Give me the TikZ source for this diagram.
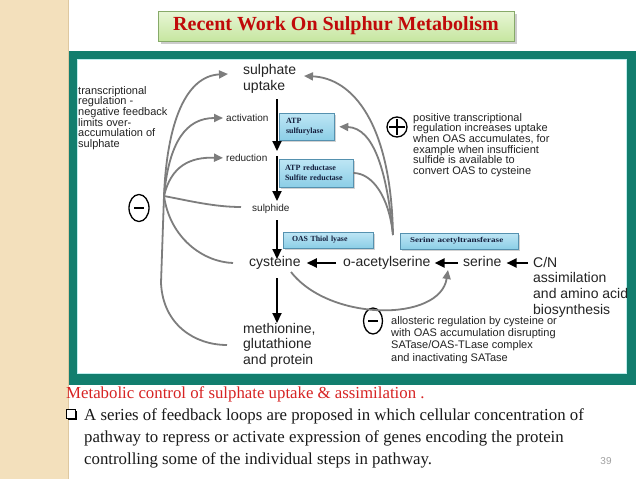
\documentclass[tikz,border=0pt]{standalone}
\usepackage{fontspec}
\setmainfont{Liberation Serif}
\setsansfont{Liberation Sans}
\usetikzlibrary{arrows.meta,shadows,shapes.geometric}
\definecolor{beige}{RGB}{243,224,188}
\definecolor{beigeline}{RGB}{222,200,160}
\definecolor{frameteal}{RGB}{18,126,110}
\definecolor{framecyan}{RGB}{190,238,238}
\definecolor{titlered}{RGB}{192,10,10}
\definecolor{titletop}{RGB}{232,246,214}
\definecolor{titlebot}{RGB}{198,230,160}
\definecolor{titleborder}{RGB}{135,170,105}
\definecolor{boxtop}{RGB}{190,230,245}
\definecolor{boxbot}{RGB}{140,206,230}
\definecolor{boxborder}{RGB}{85,145,175}
\definecolor{boxtext}{RGB}{20,30,60}
\definecolor{fbgray}{RGB}{125,125,125}
\definecolor{ink}{RGB}{35,35,35}
\definecolor{notered}{RGB}{215,35,35}
\definecolor{pagenum}{RGB}{160,160,160}
\begin{document}
\begin{tikzpicture}[x=1pt,y=-1pt,
  lbl/.style={font=\sffamily\fontsize{14}{16.5}\selectfont, text=ink, inner sep=0, align=left},
  rowlbl/.style={font=\sffamily\fontsize{14}{16.5}\selectfont, text=ink, inner sep=0, text height=10pt, text depth=3pt},
  tinylbl/.style={font=\sffamily\fontsize{10}{12}\selectfont, text=ink, inner sep=0},
  smalltxt/.style={font=\sffamily\fontsize{11}{10.7}\selectfont, text=ink, inner sep=0, align=left},
  allotxt/.style={font=\sffamily\fontsize{11}{12.3}\selectfont, text=ink, inner sep=0, align=left},
  ebox/.style={rectangle, draw=boxborder, line width=0.6pt, top color=boxtop, bottom color=boxbot,
    drop shadow={shadow xshift=1.5pt, shadow yshift=-1.5pt, opacity=0.35},
    inner ysep=0, font=\bfseries\fontsize{8}{10.5}\selectfont, text=boxtext, align=left},
  titlebox/.style={rectangle, draw=titleborder, line width=0.7pt, top color=titletop, bottom color=titlebot,
    drop shadow={shadow xshift=2.5pt, shadow yshift=-2.5pt, opacity=0.4},
    font=\bfseries\fontsize{20}{22}\selectfont, text=titlered},
  sign/.style={ellipse, draw=black, line width=1.3pt, inner sep=0},
  blk/.style={line width=2.2pt, draw=black, -{Triangle[length=10pt,width=9pt]}},
  fb/.style={line width=1.8pt, draw=fbgray, -{Triangle[length=9pt,width=8pt]}},
  fbl/.style={line width=1.8pt, draw=fbgray},
  note/.style={font=\fontsize{16.8}{22}\selectfont, inner sep=0, align=left, text=black!90}]
\useasboundingbox (0,0) rectangle (638,479);
\fill[white] (0,0) rectangle (638,479);
% side strip
\fill[beige] (0,0) rectangle (68,479);
\draw[beigeline, line width=1pt] (68,0) -- (68,479);
% frame
\fill[frameteal] (69,51) rectangle (636,385);
\filldraw[fill=white, draw=framecyan, line width=1.5pt] (77.5,59.5) rectangle (626.5,373.5);
% title
\node[titlebox, minimum width=356, minimum height=30] (title) at (336,26) {Recent Work On Sulphur Metabolism};

% enzyme boxes
\node[ebox, minimum width=55, minimum height=27, inner xsep=7pt, text width=41pt] (e1) at (306.5,126.5) {ATP\\sulfurylase};
\node[ebox, minimum width=74, minimum height=28, inner xsep=6pt, text width=62pt] (e2) at (316,173) {ATP reductase\\Sulfite reductase};
\node[ebox, minimum width=90, minimum height=16, inner xsep=9pt, text width=72pt, font=\bfseries\fontsize{7.8}{9}\selectfont] (e3) at (328,240) {OAS Thiol lyase};
\node[ebox, minimum width=118, minimum height=16, inner xsep=10pt, text width=98pt, font=\bfseries\fontsize{7.4}{9}\selectfont] (e4) at (459,241) {\scalebox{1.22}[1]{Serine acetyltransferase}};

% pathway labels (multi-line nodes: base = last line)
\node[lbl, anchor=base west] (upt) at (243,90.5) {sulphate\\uptake};
\node[tinylbl, anchor=west] (act) at (226,118) {activation};
\node[tinylbl, anchor=west] (red) at (226,158) {reduction};
\node[tinylbl, anchor=west] (sde) at (252,209) {sulphide};
\node[rowlbl, anchor=base west] (cys) at (249,266.5) {cysteine};
\node[rowlbl, anchor=base west] (oas) at (343,266.5) {o-acetylserine};
\node[rowlbl, anchor=base west] (ser) at (463,266.5) {serine};
\node[lbl, anchor=base west, font=\sffamily\fontsize{14}{15.8}\selectfont] (cn) at (533,314.4) {C/N\\assimilation\\and amino acid\\biosynthesis};
\node[lbl, anchor=base west, font=\sffamily\fontsize{14}{15.5}\selectfont] (met) at (243,364) {methionine,\\glutathione\\and protein};

% explanatory texts
\node[smalltxt, anchor=base west] (ltxt) at (78,147.5) {transcriptional\\regulation -\\negative feedback\\limits over-\\accumulation of\\sulphate};
\node[smalltxt, anchor=base west] (ptxt) at (413,174.5) {positive transcriptional\\regulation increases uptake\\when OAS accumulates, for\\example when insufficient\\sulfide is available to\\convert OAS to cysteine};
\node[allotxt, anchor=base west] (atxt) at (391,361) {allosteric regulation by cysteine or\\with OAS accumulation disrupting\\SATase/OAS-TLase complex\\and inactivating SATase};

% signs
\node[sign, minimum width=20, minimum height=27] (mL) at (139,208) {};
\draw[line width=1.3pt] ([xshift=-5pt]mL.center) -- ([xshift=5pt]mL.center);
\node[sign, minimum width=20, minimum height=20] (pR) at (397,127) {};
\draw[line width=1.3pt] ([xshift=-8pt]pR.center) -- ([xshift=8pt]pR.center);
\draw[line width=1.3pt] ([yshift=-8pt]pR.center) -- ([yshift=8pt]pR.center);
\node[sign, minimum width=19, minimum height=26] (mB) at (373,321) {};
\draw[line width=1.3pt] ([xshift=-5pt]mB.center) -- ([xshift=5pt]mB.center);

% main black arrows
\coordinate (v1) at (277,99);  \coordinate (v2) at (277,151);
\coordinate (v3) at (277,156); \coordinate (v4) at (277,201);
\coordinate (v5) at (277,220); \coordinate (v6) at (277,259);
\coordinate (v7) at (277,278); \coordinate (v8) at (277,323);
\draw[blk] (v1) -- (v2);
\draw[blk] (v3) -- (v4);
\draw[blk] (v5) -- (v6);
\draw[blk] (v7) -- (v8);
\coordinate (cysR) at ([yshift=3.5pt]cys.base east);
\coordinate (oasL) at ([yshift=3.5pt]oas.base west);
\coordinate (oasR) at ([yshift=3.5pt]oas.base east);
\coordinate (serL) at ([yshift=3.5pt]ser.base west);
\coordinate (serR) at ([yshift=3.5pt]ser.base east);
\draw[blk, shorten <=7pt, shorten >=6pt] (oasL) -- (cysR);
\draw[blk, shorten <=5pt, shorten >=4pt] (serL) -- (oasR);
\draw[blk, shorten <=5pt, shorten >=5pt] (serR -| cn.west) -- (serR);

% negative feedback (left)
\coordinate (fbL) at (164,196);
\coordinate (tU) at (228,74);
\coordinate (tS) at (241,207);
\coordinate (tC) at (233,263);
\coordinate (tM) at (227,345);
\draw[fb] (fbL) .. controls (167,122) and (186,76) .. (tU);
\draw[fb, shorten >=3pt] (fbL) .. controls (169,142) and (186,118) .. (act.west);
\draw[fb, shorten >=3pt] (fbL) .. controls (171,166) and (190,157) .. (red.west);
\draw[fbl] (fbL) .. controls (190,201) and (215,207) .. (tS);
\draw[fbl] (fbL) .. controls (170,238) and (203,262) .. (tC);
\draw[fbl] (fbL) -- (161,283) .. controls (163,325) and (195,345) .. (tM);

% positive feedback (right)
\coordinate (fbR) at (393,235);
\coordinate (tUR) at (304,76);
\draw[fb] (fbR) .. controls (391,122) and (352,78) .. (tUR);
\draw[fb, shorten >=5pt] (fbR) .. controls (387,172) and (374,128) .. (e1.east);
\draw[fbl] (e2.east) .. controls (372,173) and (389,196) .. (fbR);

% allosteric loop
\coordinate (aS) at (291,272);
\coordinate (aE) at (448,270);
\draw[fb] (aS) .. controls (330,322) and (440,322) .. (aE);

% bottom notes
\node[note, anchor=base west, text=notered] (n0) at (66,398) {Metabolic control of sulphate uptake \& assimilation .};
\node[draw=black, line width=0.8pt, fill=white, minimum size=9.5pt, inner sep=0,
  drop shadow={shadow xshift=1.3pt, shadow yshift=-1.3pt, fill=black, opacity=1}] (bul) at (71,414) {};
\node[note, anchor=base west] (n1) at (84,464) {A series of feedback loops are proposed in which cellular concentration of\\pathway to repress or activate expression of genes encoding the protein\\controlling some of the individual steps in pathway.};
\node[font=\sffamily\fontsize{10}{12}\selectfont, text=pagenum, inner sep=0] (pg) at (606,461) {39};
\end{tikzpicture}
\end{document}
